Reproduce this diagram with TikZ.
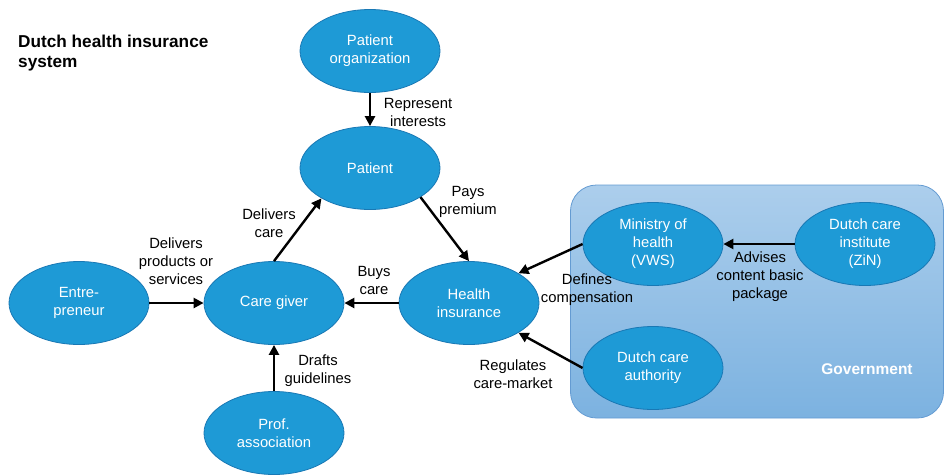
\documentclass[tikz,border=0pt]{standalone}
\usepackage{fontspec}
\setmainfont{Liberation Sans}
\usetikzlibrary{arrows.meta,shapes.geometric}
\definecolor{ellfill}{RGB}{30,154,214}
\definecolor{elldraw}{RGB}{25,120,180}
\definecolor{govtop}{RGB}{172,206,236}
\definecolor{govbot}{RGB}{124,178,224}
\definecolor{govdraw}{RGB}{100,155,210}
\begin{document}
\begin{tikzpicture}[x=1pt,y=-1pt,
  ell/.style={ellipse, draw=elldraw, line width=0.8pt, fill=ellfill, minimum width=140pt, minimum height=83pt, inner sep=0pt, align=center, text=white, font=\fontsize{14.8}{18}\selectfont},
  lbl/.style={align=center, font=\fontsize{14.8}{18}\selectfont, inner sep=0pt},
  arr/.style={line width=2.4pt, -{Triangle[length=10pt,width=10pt]}}
]
\useasboundingbox (0,0) rectangle (945,475);
% government box
\node[draw=govdraw, line width=0.8pt, rounded corners=26pt, top color=govtop, bottom color=govbot, minimum width=373pt, minimum height=233pt, inner sep=0pt] (gov) at (757,301.5) {};
\node[text=white, font=\fontsize{15.5}{18}\selectfont\bfseries, inner sep=0pt] (govlbl) at (867,369) {Government};
% title
\node[anchor=north west, align=left, font=\fontsize{17.2}{20}\selectfont\bfseries, inner sep=0pt] (title) at (18,35) {Dutch health insurance\\system};
% ellipses
\node[ell] (porg) at (370,51) {Patient\\organization};
\node[ell] (pat) at (370,168) {Patient};
\node[ell] (cg) at (274,303) {Care giver};
\node[ell] (ent) at (79,303) {Entre-\\preneur};
\node[ell] (prof) at (274,433) {Prof.\\association};
\node[ell] (hi) at (469,303) {Health\\insurance};
\node[ell] (min) at (653,244) {Ministry of\\health\\(VWS)};
\node[ell] (zin) at (865,244) {Dutch care\\institute\\(ZiN)};
\node[ell] (auth) at (653,368) {Dutch care\\authority};
% arrows
\draw[arr] (porg) -- (pat);
\draw[arr] (cg.north) -- (pat.212);
\draw[arr] (pat.330) -- (hi.north);
\draw[arr] (hi) -- (cg);
\draw[arr] (ent) -- (cg);
\draw[arr] (prof) -- (cg);
\draw[arr] (min.west) -- (hi.31);
\draw[arr] (auth.west) -- (hi.-31);
\draw[arr] (zin) -- (min);
% labels
\node[lbl] (l1) at (418,112) {Represent\\interests};
\node[lbl] (l2) at (269,223) {Delivers\\care};
\node[lbl] (l3) at (468,202) {Pays\\premium};
\node[lbl] (l4) at (374,280) {Buys\\care};
\node[lbl] (l5) at (176,261) {Delivers\\products or\\services};
\node[lbl] (l6) at (318,371) {Drafts\\guidelines};
\node[lbl] (l7) at (587,290) {Defines\\compensation};
\node[lbl] (l8) at (513,374) {Regulates\\care-market};
\node[lbl] (l9) at (760,277) {Advises\\content basic\\package};
\end{tikzpicture}
\end{document}
